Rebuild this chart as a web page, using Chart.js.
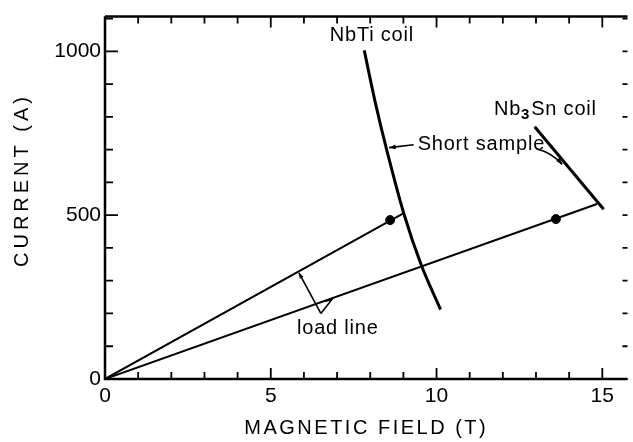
<!DOCTYPE html>
<html>
<head>
<meta charset="utf-8">
<script src="https://cdn.jsdelivr.net/npm/chart.js@4.4.0/dist/chart.umd.min.js"></script>
<style>
  html,body{margin:0;padding:0;background:#fff;}
  #wrap{width:633px;height:442px;}
</style>
</head>
<body>
<div id="wrap"><canvas id="c" width="633" height="442"></canvas></div>
<script>
// ---- data ----
const xMajorTicks = [0, 5, 10, 15];
const yMajorTicks = [0, 500, 1000];
const xMinorTicks = [0,1,2,3,4,5,6,7,8,9,10,11,12,13,14,15];
const yMinorTicks = [0,100,200,300,400,500,600,700,800,900,1000,1100];

const nbtiShortX = [7.82, 8.15, 8.51, 9.01, 9.55, 10.12];
const nbtiShortY = [1003, 845, 694, 506, 345, 212];

const nbtiLoadX = [0, 9.01];
const nbtiLoadY = [0, 506];

const nb3snLoadX = [0, 14.84];
const nb3snLoadY = [0, 534];

const nb3snShortX = [12.96, 15.04];
const nb3snShortY = [770, 518];

const opPointX = [8.6, 13.6];
const opPointY = [485, 488];

const xTitle = "MAGNETIC FIELD (T)";
const yTitle = "CURRENT (A)";

// annotation labels (anchor in data units)
const labels = [
  {text: "NbTi coil", x: 6.78, y: 1048},
  {text: "Short sample", x: 9.43, y: 715},
  {text: "load line", x: 5.79, y: 155}
];

const pts = (xs, ys) => xs.map((x, i) => ({x, y: ys[i]}));

const FONT = "'Liberation Sans', Arial, sans-serif";

const framePlugin = {
  id: 'frame',
  afterDraw(chart) {
    const ctx = chart.ctx;
    const xs = chart.scales.x, ys = chart.scales.y;
    const a = chart.chartArea;
    ctx.save();
    ctx.strokeStyle = '#000';
    ctx.fillStyle = '#000';
    ctx.lineCap = 'butt';
    // frame: left, bottom, top
    ctx.lineWidth = 2.5;
    ctx.beginPath();
    ctx.moveTo(a.left, a.top); ctx.lineTo(a.left, a.bottom); ctx.lineTo(a.right, a.bottom);
    ctx.moveTo(a.left, a.top); ctx.lineTo(a.right, a.top);
    ctx.stroke();
    // ticks (inward)
    ctx.lineWidth = 1.8;
    ctx.beginPath();
    xMinorTicks.forEach(v => {
      const px = xs.getPixelForValue(v);
      const len = xMajorTicks.includes(v) ? 11 : 7;
      ctx.moveTo(px, a.bottom); ctx.lineTo(px, a.bottom - len);
      ctx.moveTo(px, a.top); ctx.lineTo(px, a.top + len);
    });
    yMinorTicks.forEach(v => {
      const py = ys.getPixelForValue(v);
      const len = yMajorTicks.includes(v) ? 13 : 8;
      ctx.moveTo(a.left, py); ctx.lineTo(a.left + len, py);
      ctx.moveTo(a.right, py); ctx.lineTo(a.right - 5, py);
    });
    ctx.stroke();

    // annotation text
    ctx.font = "20px " + FONT;
    ctx.letterSpacing = '0.8px';
    ctx.textBaseline = 'middle';
    ctx.textAlign = 'left';
    labels.forEach(l => {
      ctx.fillText(l.text, xs.getPixelForValue(l.x), ys.getPixelForValue(l.y));
    });
    // Nb3Sn coil with subscript
    let nx = xs.getPixelForValue(11.73), ny = ys.getPixelForValue(822);
    ctx.fillText("Nb", nx, ny);
    nx += ctx.measureText("Nb").width;
    ctx.font = "bold 15px " + FONT;
    ctx.fillText("3", nx, ny + 5);
    nx += ctx.measureText("3").width + 1;
    ctx.font = "20px " + FONT;
    ctx.fillText("Sn coil", nx, ny);
    ctx.letterSpacing = '0px';

    // arrows
    ctx.lineWidth = 1.6;
    const P = (x, y) => [xs.getPixelForValue(x), ys.getPixelForValue(y)];
    function head(tip, from, size) {
      const ang = Math.atan2(tip[1] - from[1], tip[0] - from[0]);
      ctx.beginPath();
      ctx.moveTo(tip[0], tip[1]);
      ctx.lineTo(tip[0] - size * Math.cos(ang - 0.35), tip[1] - size * Math.sin(ang - 0.35));
      ctx.lineTo(tip[0] - size * Math.cos(ang + 0.35), tip[1] - size * Math.sin(ang + 0.35));
      ctx.closePath();
      ctx.fill();
    }
    // Short sample -> NbTi curve
    let s = P(9.31, 715), t = P(8.57, 706);
    ctx.beginPath(); ctx.moveTo(s[0], s[1]); ctx.lineTo(t[0], t[1]); ctx.stroke();
    head(t, s, 7);
    // sample -> Nb3Sn line (curved)
    s = P(13.01, 703); const c = P(13.5, 690); t = P(13.79, 655);
    ctx.beginPath(); ctx.moveTo(s[0], s[1]); ctx.quadraticCurveTo(c[0], c[1], t[0], t[1]); ctx.stroke();
    head(t, c, 7);
    // load line pointers
    const v = P(6.51, 200), up = P(5.85, 324), r1 = P(6.64, 237), r2 = P(6.84, 242);
    ctx.beginPath(); ctx.moveTo(v[0], v[1]); ctx.lineTo(up[0], up[1]); ctx.stroke();
    head(up, v, 6);
    ctx.beginPath(); ctx.moveTo(v[0], v[1]); ctx.lineTo(r2[0], r2[1]); ctx.lineTo(r1[0], r1[1]); ctx.stroke();

    // axis titles
    ctx.font = "20px " + FONT;
    ctx.letterSpacing = '2.5px';
    ctx.textAlign = 'center';
    ctx.textBaseline = 'middle';
    ctx.fillText(xTitle, (a.left + a.right) / 2, chart.height - 14);
    ctx.letterSpacing = '4px';
    ctx.translate(22, 180);
    ctx.rotate(-Math.PI / 2);
    ctx.fillText(yTitle, 0, 0);
    ctx.restore();
  }
};

new Chart(document.getElementById('c'), {
  type: 'scatter',
  data: {
    datasets: [
      {data: pts(nbtiShortX, nbtiShortY), showLine: true, borderColor: '#000', borderWidth: 3, pointRadius: 0, tension: 0.3},
      {data: pts(nbtiLoadX, nbtiLoadY), showLine: true, borderColor: '#000', borderWidth: 2, pointRadius: 0},
      {data: pts(nb3snLoadX, nb3snLoadY), showLine: true, borderColor: '#000', borderWidth: 2, pointRadius: 0},
      {data: pts(nb3snShortX, nb3snShortY), showLine: true, borderColor: '#000', borderWidth: 3, pointRadius: 0},
      {data: pts(opPointX, opPointY), showLine: false, backgroundColor: '#000', borderColor: '#000', pointRadius: 4.5}
    ]
  },
  options: {
    responsive: false,
    animation: false,
    layout: {padding: {top: 14, right: 0, left: 0, bottom: 0}},
    plugins: {legend: {display: false}, tooltip: {enabled: false}},
    scales: {
      x: {
        type: 'linear', min: 0, max: 15.76,
        grid: {display: false, drawTicks: false},
        border: {display: false},
        afterBuildTicks: s => { s.ticks = xMajorTicks.map(v => ({value: v})); },
        afterFit: s => { s.height = 63; },
        ticks: {color: '#000', font: {size: 21, family: FONT}, padding: 5, maxRotation: 0, autoSkip: false,
                callback: v => String(v)}
      },
      y: {
        type: 'linear', min: 0, max: 1106,
        grid: {display: false, drawTicks: false},
        border: {display: false},
        afterBuildTicks: s => { s.ticks = yMajorTicks.map(v => ({value: v})); },
        afterFit: s => { s.width = 105; },
        ticks: {color: '#000', font: {size: 21, family: FONT}, padding: 4,
                callback: v => String(v)}
      }
    }
  },
  plugins: [framePlugin]
});
</script>
</body>
</html>
